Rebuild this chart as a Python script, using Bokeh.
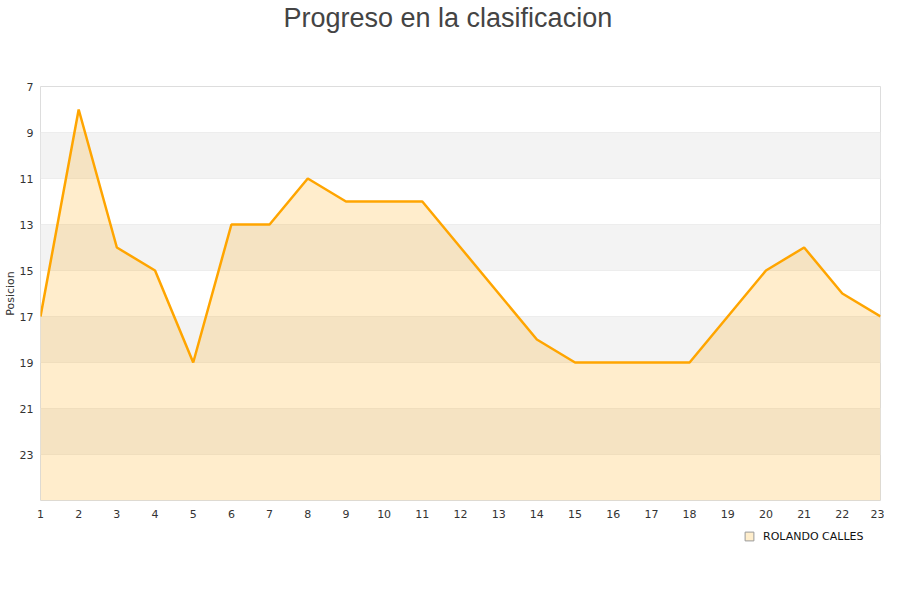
from bokeh.plotting import figure
from bokeh.layouts import column
from bokeh.models import Range1d, FixedTicker, BoxAnnotation, Legend, LegendItem, ColumnDataSource
from bokeh.embed import file_html
from bokeh.resources import INLINE

jornadas = list(range(1, 24))
posicion = [17, 8, 14, 15, 19, 13, 13, 11, 12, 12, 12, 14, 16, 18, 19, 19, 19, 19, 17, 15, 14, 16, 17]
y_ticks = [7, 9, 11, 13, 15, 17, 19, 21, 23]
band_starts = [9, 13, 17, 21]
title_text = "Progreso en la clasificacion"
y_label = "Posicion"
series_name = "ROLANDO CALLES"
y_min, y_max = 7, 25


def strip(height, x_end):
    f = figure(width=884, height=height, output_backend="svg", toolbar_location=None,
               x_range=Range1d(0, x_end), y_range=Range1d(0, height),
               min_border_left=40, min_border_right=4, min_border_top=0, min_border_bottom=0)
    f.axis.visible = False
    f.grid.visible = False
    f.outline_line_color = None
    f.background_fill_color = "white"
    f.border_fill_color = "white"
    return f


# title strip
p0 = strip(40, 840)
p0.title.text = title_text
p0.title.align = "left"
p0.title.offset = 243
p0.title.standoff = 0
p0.title.text_font = "Liberation Sans"
p0.title.text_font_size = "27px"
p0.title.text_font_style = "normal"
p0.title.text_color = "#444444"

# main chart
p = figure(width=884, height=490, output_backend="svg", toolbar_location=None,
           x_range=Range1d(1, 23), y_range=Range1d(y_max, y_min),
           min_border_left=40, min_border_right=4, min_border_top=46, min_border_bottom=30)
p.outline_line_color = "#dddddd"
p.background_fill_color = "white"
p.border_fill_color = "white"

for b in band_starts:
    p.add_layout(BoxAnnotation(bottom=b, top=b + 2, fill_color="#f3f3f3", fill_alpha=1, line_color=None, level="underlay"))

src = ColumnDataSource(dict(x=jornadas, y=posicion, base=[y_max] * len(jornadas)))
p.varea(x="x", y1="y", y2="base", source=src, fill_color="orange", fill_alpha=0.2)
p.line(x="x", y="y", source=src, line_color="orange", line_width=2.5)

p.xaxis.ticker = FixedTicker(ticks=jornadas)
p.yaxis.ticker = FixedTicker(ticks=y_ticks)
for ax in (p.xaxis[0], p.yaxis[0]):
    ax.axis_line_color = None
    ax.major_tick_line_color = None
    ax.minor_tick_line_color = None
    ax.major_tick_out = 0
    ax.major_label_text_font = "DejaVu Sans"
    ax.major_label_text_font_size = "11px"
    ax.major_label_text_color = "#333333"
p.xaxis.major_label_standoff = 9
p.yaxis.major_label_standoff = 7
p.yaxis.axis_label = y_label
p.yaxis.axis_label_text_font = "DejaVu Sans"
p.yaxis.axis_label_text_font_size = "11px"
p.yaxis.axis_label_text_font_style = "normal"
p.yaxis.axis_label_text_color = "#333333"
p.yaxis.axis_label_standoff = 0

p.xgrid.grid_line_color = None
p.ygrid.grid_line_color = "#e6e6e6"
p.ygrid.ticker = FixedTicker(ticks=y_ticks)

# legend strip
p2 = strip(54, 840)
proxy = p2.scatter(x=[-100], y=[-100], marker="square", size=9,
                   fill_color="#ffeecc", line_color="#999999", line_width=1)
legend = Legend(items=[LegendItem(label=series_name, renderers=[proxy])],
                location=(698, 37), border_line_color=None, background_fill_alpha=0,
                label_text_font="DejaVu Sans", label_text_font_size="11px", label_text_color="#111111",
                glyph_width=22, glyph_height=22, label_height=10, padding=0, margin=0, label_standoff=3)
p2.add_layout(legend, "center")

open("out.html", "w").write(file_html(column(p0, p, p2, spacing=0), INLINE))
